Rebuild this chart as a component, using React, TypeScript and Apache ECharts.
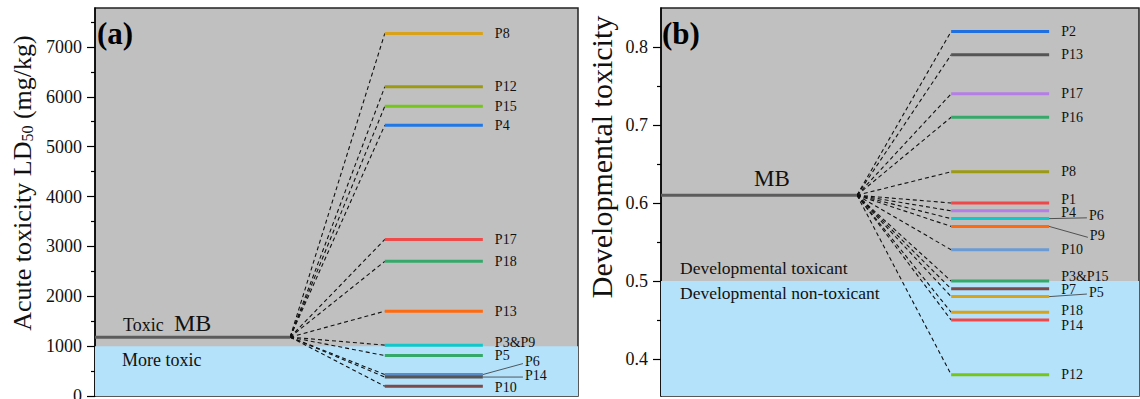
import React, { useEffect, useRef } from 'react';
import * as echarts from 'echarts';

// ---------- Panel (a): acute toxicity LD50 (mg/kg) ----------
const A_NAMES = ['P8', 'P12', 'P15', 'P4', 'P17', 'P18', 'P13', 'P3&P9', 'P5', 'P6', 'P14', 'P10'];
const A_VALUES = [7270, 6200, 5810, 5430, 3140, 2700, 1700, 1020, 810, 430, 380, 195];
const A_COLORS = ['#d9a21b', '#9c9a12', '#76c51a', '#1f78e6', '#ef4b4b', '#35a86a', '#ff6a0e', '#10c8cc', '#35a86a', '#5a8cc8', '#555555', '#7d4a4a'];
const A_MB = 1180;
const A_THRESHOLD = 1000;
const A_MIN = 0;
const A_MAX = 7780;
const A_TICKS = [0, 1000, 2000, 3000, 4000, 5000, 6000, 7000];
const A_MINOR = [500, 1500, 2500, 3500, 4500, 5500, 6500, 7500];

// ---------- Panel (b): developmental toxicity ----------
const B_NAMES = ['P2', 'P13', 'P17', 'P16', 'P8', 'P1', 'P4', 'P6', 'P9', 'P10', 'P3&P15', 'P7', 'P5', 'P18', 'P14', 'P12'];
const B_VALUES = [0.82, 0.79, 0.74, 0.71, 0.64, 0.6, 0.59, 0.58, 0.57, 0.54, 0.5, 0.49, 0.48, 0.46, 0.45, 0.38];
const B_COLORS = ['#1f6fe0', '#555555', '#b57de6', '#35a86a', '#9c9a12', '#f04848', '#b57de6', '#10c8cc', '#ff6a0e', '#6a9bd4', '#35a86a', '#7d4a4a', '#d9a21b', '#d9a21b', '#f04848', '#76c51a'];
const B_MB = 0.61;
const B_THRESHOLD = 0.5;
const B_MIN = 0.3526;
const B_MAX = 0.85;
const B_TICKS = [0.4, 0.5, 0.6, 0.7, 0.8];
const B_MINOR = [0.45, 0.55, 0.65, 0.75];

// ---------- layout (not data) ----------
const A_X = { mbEnd: 40.4, pStart: 60, pEnd: 80.3 };
const B_X = { mbEnd: 41, pStart: 60.7, pEnd: 81.2 };
// labels moved aside with a thin leader line: [x, y] of leader end in axis units
const A_LEADERS: Record<string, [number, number]> = { P6: [88.6, 650], P14: [88.6, 380] };
const B_LEADERS: Record<string, [number, number]> = { P6: [89.1, 0.581], P9: [89.3, 0.556], P5: [89.1, 0.4833] };
const A_SHIFT: Record<string, number> = { 'P3&P9': -3, P10: 1 };
const B_SHIFT: Record<string, number> = { P1: -4, P4: 2, 'P3&P15': -5, P7: 1, P18: -2, P14: 5 };

const SERIF = '"Liberation Serif", "Times New Roman", serif';
const GRAY = '#c0c0c0';
const BLUE = '#b4e2fa';

function panelSeries(
  gi: number,
  names: string[],
  values: number[],
  colors: string[],
  mb: number,
  threshold: number,
  yMin: number,
  X: { mbEnd: number; pStart: number; pEnd: number },
  leaders: Record<string, [number, number]>,
  shift: Record<string, number>
) {
  const ax = { xAxisIndex: gi, yAxisIndex: gi * 2 };
  const out: any[] = [];
  out.push({
    ...ax,
    type: 'line',
    name: 'MB',
    data: [[0, mb], [X.mbEnd, mb]],
    symbol: 'none',
    lineStyle: { color: '#5c5c5c', width: 3 },
    z: 4,
    markArea: {
      silent: true,
      itemStyle: { color: BLUE },
      data: [[{ yAxis: yMin }, { yAxis: threshold }]],
    },
  });
  names.forEach((n, i) => {
    out.push({
      ...ax,
      type: 'line',
      data: [[X.mbEnd, mb], [X.pStart, values[i]]],
      symbol: 'none',
      lineStyle: { color: '#111', width: 1.1, type: [4, 3] },
      z: 3,
    });
  });
  names.forEach((n, i) => {
    const leader = leaders[n];
    out.push({
      ...ax,
      type: 'line',
      name: n,
      data: [[X.pStart, values[i]], [X.pEnd, values[i]]],
      symbol: 'none',
      lineStyle: { color: colors[i], width: 3 },
      z: 5,
      endLabel: {
        show: !leader,
        formatter: n,
        distance: 12,
        offset: [0, shift[n] || 0],
        fontFamily: SERIF,
        fontSize: 14,
        color: '#111',
      },
    });
    if (leader) {
      out.push({
        ...ax,
        type: 'line',
        data: [[X.pEnd, values[i]], leader],
        symbol: 'none',
        lineStyle: { color: '#333', width: 0.8 },
        z: 6,
        endLabel: {
          show: true,
          formatter: n,
          distance: 2,
          offset: [0, -2],
          fontFamily: SERIF,
          fontSize: 14,
          color: '#111',
        },
      });
    }
  });
  return out;
}

function yAxes(gi: number, min: number, max: number, ticks: number[], minor: number[], fmt: (v: number) => string) {
  const base = {
    type: 'value',
    gridIndex: gi,
    min,
    max,
    position: 'left',
    splitLine: { show: false },
  };
  return [
    {
      ...base,
      axisLine: { show: true, lineStyle: { color: '#000', width: 1.5 } },
      axisTick: { show: true, inside: false, length: 8, customValues: ticks, lineStyle: { color: '#000', width: 1.2 } },
      axisLabel: {
        show: true,
        customValues: ticks,
        margin: 13,
        fontFamily: SERIF,
        fontSize: 18,
        color: '#111',
        formatter: (v: number) => fmt(v),
      },
    },
    {
      ...base,
      axisLine: { show: false },
      axisTick: { show: true, inside: false, length: 4, customValues: minor, lineStyle: { color: '#000', width: 1.2 } },
      axisLabel: { show: false },
    },
  ];
}

export default function App() {
  const ref = useRef<HTMLDivElement>(null);
  useEffect(() => {
    if (!ref.current) return;
    const chart = echarts.init(ref.current, undefined, { renderer: 'svg' });
    const gridBase = {
      show: true,
      backgroundColor: GRAY,
      borderColor: '#222',
      borderWidth: 1.5,
      containLabel: false,
      outerBoundsMode: 'none',
    };
    const T = (o: any) => ({ type: 'text', z: 100, ...o });
    const option: any = {
      animation: false,
      backgroundColor: '#ffffff',
      grid: [
        { ...gridBase, left: 95, top: 8, width: 483, height: 388 },
        { ...gridBase, left: 661, top: 8, width: 478, height: 388 },
      ],
      xAxis: [
        { type: 'value', gridIndex: 0, min: 0, max: 100, show: false, splitLine: { show: false } },
        { type: 'value', gridIndex: 1, min: 0, max: 100, show: false, splitLine: { show: false } },
      ],
      yAxis: [
        ...yAxes(0, A_MIN, A_MAX, A_TICKS, A_MINOR, (v) => String(v)),
        ...yAxes(1, B_MIN, B_MAX, B_TICKS, B_MINOR, (v) => v.toFixed(1)),
      ],
      series: [
        ...panelSeries(0, A_NAMES, A_VALUES, A_COLORS, A_MB, A_THRESHOLD, A_MIN, A_X, A_LEADERS, A_SHIFT),
        ...panelSeries(1, B_NAMES, B_VALUES, B_COLORS, B_MB, B_THRESHOLD, B_MIN, B_X, B_LEADERS, B_SHIFT),
      ],
      graphic: [
        T({
          x: 22,
          y: 183,
          rotation: Math.PI / 2,
          style: {
            text: 'Acute toxicity LD{s|50} (mg/kg)',
            fontFamily: SERIF,
            fontSize: 26,
            fill: '#111',
            align: 'center',
            verticalAlign: 'middle',
            rich: { s: { fontFamily: SERIF, fontSize: 16, fill: '#111', verticalAlign: 'bottom', padding: [8, 0, 0, 0] } },
          },
        }),
        T({
          x: 601,
          y: 157,
          rotation: Math.PI / 2,
          style: {
            text: 'Developmental toxicity',
            fontFamily: SERIF,
            fontSize: 30,
            fill: '#111',
            align: 'center',
            verticalAlign: 'middle',
          },
        }),
        T({ x: 97, y: 33, style: { text: '(a)', fontFamily: SERIF, fontSize: 31, fontWeight: 'bold', fill: '#000', verticalAlign: 'middle' } }),
        T({ x: 662, y: 33, style: { text: '(b)', fontFamily: SERIF, fontSize: 31, fontWeight: 'bold', fill: '#000', verticalAlign: 'middle' } }),
        T({ x: 123, y: 325, style: { text: 'Toxic', fontFamily: SERIF, fontSize: 18, fill: '#111', verticalAlign: 'middle' } }),
        T({ x: 174, y: 323, style: { text: 'MB', fontFamily: SERIF, fontSize: 24, fill: '#111', verticalAlign: 'middle' } }),
        T({ x: 122, y: 360, style: { text: 'More toxic', fontFamily: SERIF, fontSize: 18, fill: '#111', verticalAlign: 'middle' } }),
        T({ x: 754, y: 178, style: { text: 'MB', fontFamily: SERIF, fontSize: 23, fill: '#111', verticalAlign: 'middle' } }),
        T({ x: 680, y: 268, style: { text: 'Developmental toxicant', fontFamily: SERIF, fontSize: 17.5, fill: '#111', verticalAlign: 'middle' } }),
        T({ x: 680, y: 293, style: { text: 'Developmental non-toxicant', fontFamily: SERIF, fontSize: 17.5, fill: '#111', verticalAlign: 'middle' } }),
      ],
    };
    chart.setOption(option);
    return () => chart.dispose();
  }, []);
  return <div ref={ref} style={{ position: 'fixed', left: 0, top: 0, width: 1140, height: 399 }} />;
}
